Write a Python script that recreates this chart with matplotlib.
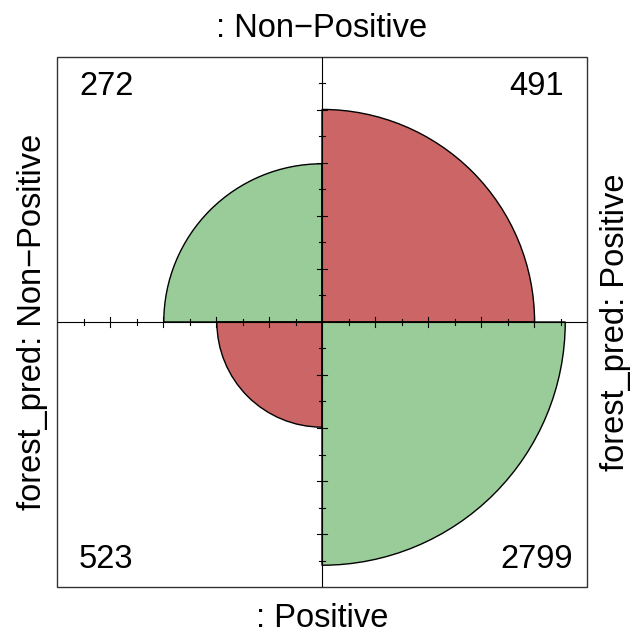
import numpy as np
import matplotlib
matplotlib.use("Agg")
import matplotlib.pyplot as plt
from matplotlib.patches import Wedge, Rectangle

plt.rcParams['font.family'] = ['Liberation Sans', 'DejaVu Sans']

# Data: 2x2 confusion table (rows: actual, columns: forest_pred)
row_var = ""
col_var = "forest_pred"
row_levels = ["Non\u2212Positive", "Positive"]
col_levels = ["Non\u2212Positive", "Positive"]
counts = np.array([[272, 491],
                   [523, 2799]])
colors = ["#99CC99", "#CC6666"]  # diagonal, off-diagonal

# Standardize rows (margin = 1), radius = sqrt(proportion)
props = counts / counts.sum(axis=1, keepdims=True)
radii = np.sqrt(props)

fig = plt.figure(figsize=(6.36, 6.35), dpi=100)
ax = fig.add_axes([57/636, (635-587)/635, 530/636, 530/635])
ax.set_xlim(-1, 1)
ax.set_ylim(-1, 1)
ax.axis('off')

# quadrant angles: [row, col] -> (theta1, theta2)
angles = {(0, 0): (90, 180), (0, 1): (0, 90), (1, 0): (180, 270), (1, 1): (270, 360)}
for (i, j), (t1, t2) in angles.items():
    c = colors[0] if i == j else colors[1]
    ax.add_patch(Wedge((0, 0), radii[i, j], t1, t2, facecolor=c,
                       edgecolor='black', lw=1.0, zorder=2))

# box
ax.add_patch(Rectangle((-1, -1), 2, 2, fill=False, edgecolor='#333333',
                       lw=1.0, zorder=3, clip_on=False))
# axes with ticks
ax.plot([-1, 1], [0, 0], color='black', lw=0.8, zorder=3)
ax.plot([0, 0], [-1, 1], color='black', lw=0.8, zorder=3)
for v in np.arange(-0.8, 0.81, 0.2):
    if abs(v) < 1e-9:
        continue
    ax.plot([v, v], [-0.02, 0.02], color='black', lw=0.8, zorder=3)
    ax.plot([-0.02, 0.02], [v, v], color='black', lw=0.8, zorder=3)
for v in np.arange(-0.9, 0.91, 0.2):
    ax.plot([v, v], [-0.011, 0.011], color='black', lw=0.8, zorder=3)
    ax.plot([-0.011, 0.011], [v, v], color='black', lw=0.8, zorder=3)

fs = 23.5
# counts
ax.text(-0.814, 0.857, str(counts[0, 0]), ha='center', va='baseline', fontsize=fs)
ax.text(0.811, 0.857, str(counts[0, 1]), ha='center', va='baseline', fontsize=fs)
ax.text(-0.814, -0.93, str(counts[1, 0]), ha='center', va='baseline', fontsize=fs)
ax.text(0.811, -0.93, str(counts[1, 1]), ha='center', va='baseline', fontsize=fs)

# dimension labels
ax.text(0, 1.075, f"{row_var}: {row_levels[0]}", ha='center', va='baseline',
        fontsize=fs, clip_on=False)
ax.text(0, -1.151, f"{row_var}: {row_levels[1]}", ha='center', va='baseline',
        fontsize=fs, clip_on=False)
ax.text(-1.06, 0, f"{col_var}: {col_levels[0]}", ha='center', va='baseline',
        rotation=90, rotation_mode='anchor', fontsize=fs, clip_on=False)
ax.text(1.14, 0, f"{col_var}: {col_levels[1]}", ha='center', va='baseline',
        rotation=90, rotation_mode='anchor', fontsize=fs, clip_on=False)

fig.savefig("out.png", dpi=100)
